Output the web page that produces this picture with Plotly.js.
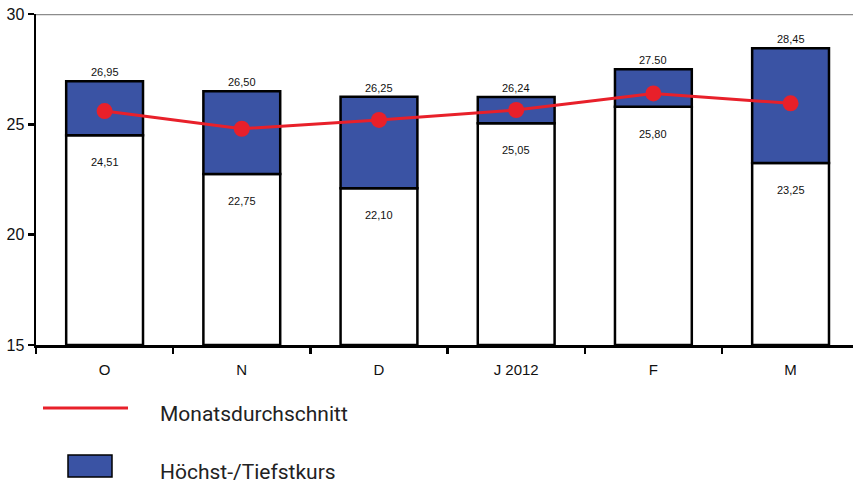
<!DOCTYPE html>
<html>
<head>
<meta charset="utf-8">
<script src="https://cdn.plot.ly/plotly-3.0.1.min.js"></script>
<style>html,body{margin:0;padding:0;background:#fff;}#chart{width:853px;height:489px;}</style>
</head>
<body>
<div id="chart"></div>
<script>
// ---- data ----
const months = ['O', 'N', 'D', 'J 2012', 'F', 'M'];
const lowValues = [24.51, 22.75, 22.10, 25.05, 25.80, 23.25];
const highValues = [26.95, 26.50, 26.25, 26.24, 27.50, 28.45];
const avgValues = [25.6, 24.8, 25.2, 25.65, 26.4, 25.95];
const lowLabels = ['24,51', '22,75', '22,10', '25,05', '25,80', '23,25'];
const highLabels = ['26,95', '26,50', '26,25', '26,24', '27.50', '28,45'];
const yTicks = [15, 20, 25, 30];
const legendLineName = 'Monatsdurchschnitt';
const legendBarName = 'Höchst-/Tiefstkurs';

// ---- layout helpers ----
const W = 853, H = 489;
const M = {l: 36, r: 0, t: 14, b: 144};
const pw = W - M.l - M.r, ph = H - M.t - M.b;
const px = x => (x - M.l) / pw;
const py = y => (H - M.b - y) / ph;
const idx = months.map((_, i) => i);
const axisFont = {family: 'Arial, "Liberation Sans", sans-serif', size: 16, color: '#111'};
const labelFont = {family: 'Arial, "Liberation Sans", sans-serif', size: 11, color: '#111'};
const legendFont = {family: 'Roboto, "Open Sans", sans-serif', size: 21, color: '#222'};
const blue = '#3A53A4', red = '#E8202A';

const traces = [
  {
    type: 'bar', x: idx, y: lowValues.map(v => v - 15), base: 15,
    width: 0.56, marker: {color: '#fff', line: {color: '#000', width: 2.5}},
    showlegend: false, hoverinfo: 'skip'
  },
  {
    type: 'bar', x: idx, y: highValues.map((h, i) => h - lowValues[i]), base: lowValues,
    width: 0.56, marker: {color: blue, line: {color: '#000', width: 2.5}},
    name: legendBarName, showlegend: false
  },
  {
    type: 'scatter', mode: 'lines+markers', x: idx, y: avgValues,
    line: {color: red, width: 3}, marker: {color: red, size: 16},
    name: legendLineName, showlegend: false
  }
];

const annotations = [];
idx.forEach(i => {
  annotations.push({x: i, y: highValues[i], xref: 'x', yref: 'y', text: highLabels[i],
    showarrow: false, yanchor: 'bottom', yshift: 1, font: labelFont});
  annotations.push({x: i, y: lowValues[i], xref: 'x', yref: 'y', text: lowLabels[i],
    showarrow: false, yanchor: 'middle', yshift: -27, font: labelFont});
});
annotations.push({x: px(158), y: py(414), xref: 'paper', yref: 'paper', text: legendLineName,
  showarrow: false, xanchor: 'left', yanchor: 'middle', font: legendFont});
annotations.push({x: px(158), y: py(472), xref: 'paper', yref: 'paper', text: legendBarName,
  showarrow: false, xanchor: 'left', yanchor: 'middle', font: legendFont});

const shapes = [
  {type: 'line', xref: 'paper', yref: 'y', x0: 0, x1: 1, y0: 30, y1: 30,
    line: {color: '#8c8c8c', width: 2.5}},
  {type: 'line', xref: 'paper', yref: 'paper', x0: px(43), x1: px(128), y0: py(408), y1: py(408),
    line: {color: red, width: 3}},
  {type: 'rect', xref: 'paper', yref: 'paper', x0: px(68), x1: px(112), y0: py(455), y1: py(477),
    fillcolor: blue, line: {color: '#000', width: 1.5}}
];

const layout = {
  width: W, height: H,
  margin: M,
  paper_bgcolor: '#fff', plot_bgcolor: '#fff',
  barmode: 'overlay',
  showlegend: false,
  xaxis: {
    type: 'linear', range: [-0.5, 5.455], fixedrange: true,
    tickmode: 'array', tickvals: idx, ticktext: months,
    ticks: '', ticklabelstandoff: 9,
    tickfont: {family: 'Arial, "Liberation Sans", sans-serif', size: 15, color: '#111'},
    showline: true, linecolor: '#000', linewidth: 2.5,
    showgrid: false, zeroline: false,
    minor: {tickmode: 'array', tickvals: [-0.5, 0.5, 1.5, 2.5, 3.5, 4.5],
      ticks: 'outside', ticklen: 6, tickwidth: 2.5, tickcolor: '#000', showgrid: false}
  },
  yaxis: {
    range: [15, 30], fixedrange: true,
    tickmode: 'array', tickvals: yTicks, ticktext: yTicks.map(String),
    ticks: 'outside', ticklen: 6, tickwidth: 2.5, tickcolor: '#000',
    tickfont: axisFont,
    showline: true, linecolor: '#000', linewidth: 2.5,
    showgrid: false, zeroline: false
  },
  annotations: annotations,
  shapes: shapes
};

Plotly.newPlot('chart', traces, layout, {displayModeBar: false, staticPlot: true});
</script>
</body>
</html>
